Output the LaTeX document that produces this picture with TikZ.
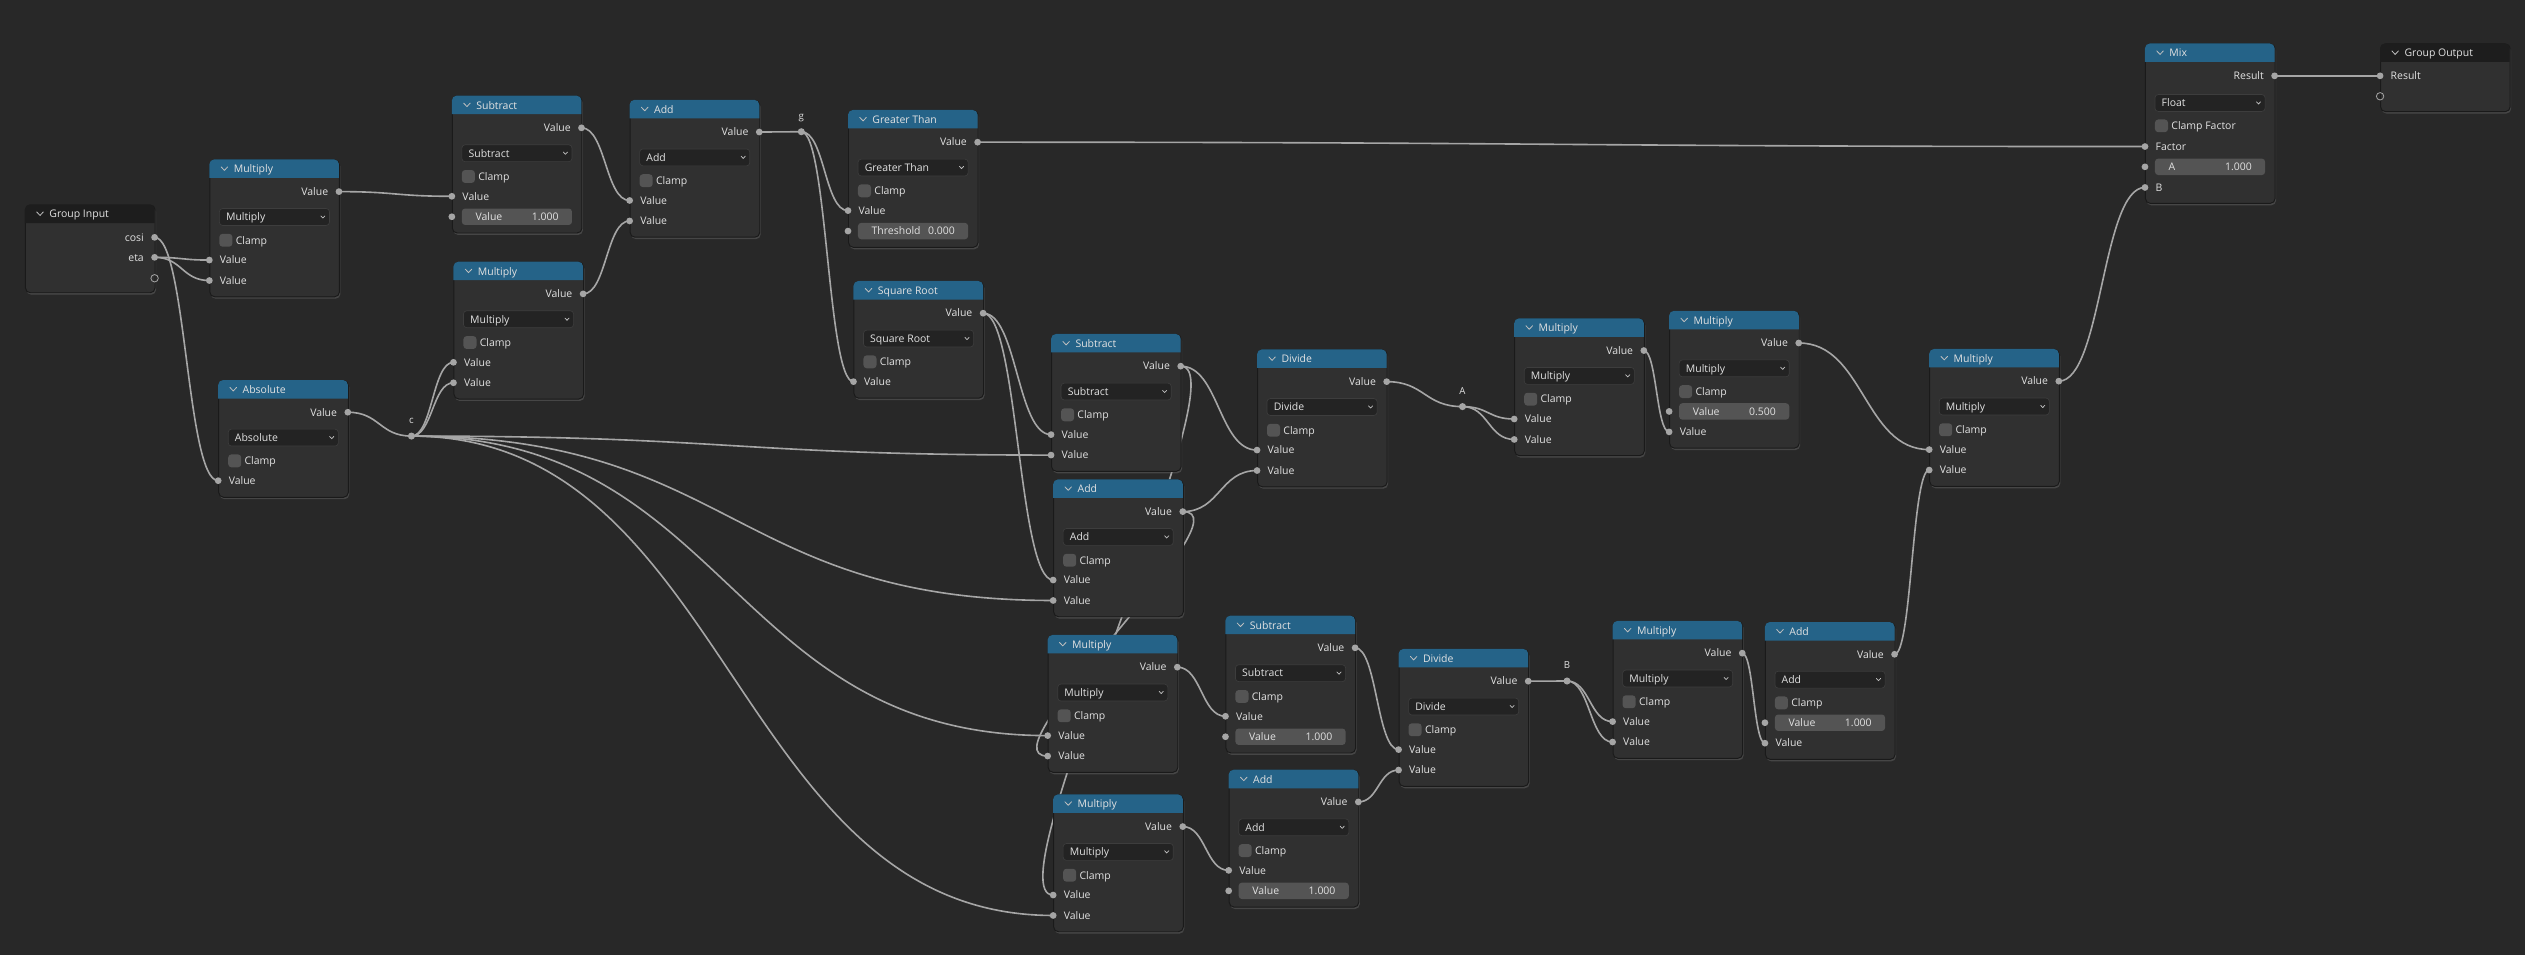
\documentclass[tikz,border=0pt]{standalone}
\usepackage{fontspec}
\setmainfont{Open Sans}
\usetikzlibrary{calc,shadows}

\definecolor{canvas}{HTML}{282828}
\definecolor{nodebg}{HTML}{303030}
\definecolor{nodeedge}{HTML}{1A1A1A}
\definecolor{mathhead}{HTML}{256388}
\definecolor{grphead}{HTML}{1D1D1D}
\definecolor{menubg}{HTML}{232323}
\definecolor{menuedge}{HTML}{3D3D3D}
\definecolor{fieldbg}{HTML}{545454}
\definecolor{txt}{HTML}{E2E2E2}
\definecolor{sockcol}{HTML}{A5A5A5}
\definecolor{wirecol}{HTML}{A6A6A6}

\pgfdeclarelayer{canvas}
\pgfdeclarelayer{wires}
\pgfsetlayers{canvas,wires,main}

\tikzset{
  nbody/.style={rectangle, anchor=north west, minimum width=80.5pt, inner sep=0pt,
    fill=nodebg, draw=nodeedge, line width=0.6pt, rounded corners=3pt,
    drop shadow={shadow xshift=0.6pt, shadow yshift=-1.2pt, opacity=0.35}},
  lbl/.style={inner sep=0pt, text=txt, font=\fontsize{6.5pt}{7.5pt}\selectfont,
    text height=4.7pt, text depth=0pt},
  rlbl/.style={lbl, font=\fontsize{6pt}{7pt}\selectfont},
  chev/.style={draw=txt!85!black, line width=0.5pt, line cap=round, line join=round},
  menu/.style={fill=menubg, draw=menuedge, line width=0.4pt, rounded corners=2pt},
  field/.style={fill=fieldbg, rounded corners=2pt},
  sock/.style={fill=sockcol},
  wire/.style={draw=wirecol, line width=1pt},
}

% body and header of a node: id, x, y, height, title, header colour
\newcommand\blnode[6]{%
  \node[nbody, minimum height=#4] (#1) at (#2,#3) {};
  \fill[#6] (#2,#3+11.5) [rounded corners=3pt] -- (#2,#3) -- (#2+80.5,#3) [sharp corners] -- (#2+80.5,#3+11.5) -- cycle;
  \draw[chev] (#2+7.3,#3+4.6) -- (#2+9.35,#3+6.8) -- (#2+11.4,#3+4.6);
  \node[lbl, anchor=west] at (#2+15,#3+6) {#5};
}
% math node: id, x, y, height, title, operation
\newcommand\mathbox[6]{%
  \blnode{#1}{#2}{#3}{#4}{#5}{mathhead}
  \node[lbl, anchor=east] at (#2+74,#3+20) {Value};
  \coordinate (#1-out) at (#2+80.5,#3+20);
  \fill[sock] (#1-out) circle (2.1pt);
  \draw[menu] (#2+6.2,#3+30.5) rectangle (#2+74.6,#3+41);
  \node[lbl, anchor=west] at (#2+10.2,#3+35.75) {#6};
  \draw[chev, line width=0.45pt] (#2+69.2,#3+35) -- (#2+70.5,#3+36.4) -- (#2+71.8,#3+35);
  \fill[field] (#2+6.2,#3+46.2) rectangle (#2+14.3,#3+54.2);
  \node[lbl, anchor=west] at (#2+16.2,#3+50.2) {Clamp};
  \coordinate (#1-in1) at (#2,#3+62.5);
  \coordinate (#1-in2) at (#2,#3+75.2);
}
% plain input: socket, label
\newcommand\inval[2]{%
  \fill[sock] (#1) circle (2.1pt);
  \node[lbl, anchor=west] at ($(#1)+(6.4,0)$) {#2};
}
% input with a number field: socket, label, value
\newcommand\infield[3]{%
  \fill[sock] (#1) circle (2.1pt);
  \fill[field] ($(#1)+(6.2,-5.1)$) rectangle ($(#1)+(74.6,5.1)$);
  \node[lbl, anchor=west] at ($(#1)+(14.5,0)$) {#2};
  \node[lbl, anchor=east] at ($(#1)+(66.5,0)$) {#3};
}
% noodle between two sockets
\newcommand\wire[2]{%
  \draw[wire] let \p1=(#1), \p2=(#2), \n1={0.5*abs(\x2-\x1)} in
    (\p1) .. controls ({\x1+\n1},\y1) and ({\x2-\n1},\y2) .. (\p2);
}

\begin{document}
\begin{tikzpicture}[x=1pt,y=-1pt]
  \useasboundingbox (0,0) rectangle (1568,593);
  \begin{pgfonlayer}{canvas}
    \fill[canvas] (0,0) rectangle (1568,593);
  \end{pgfonlayer}

  % group input
  \blnode{gin}{15.5}{127}{54.5}{Group Input}{grphead}
  \coordinate (gin-o1) at (96,147.4);
  \coordinate (gin-o2) at (96,159.8);
  \node[lbl, anchor=east] at (89.5,147.4) {cosi};
  \node[lbl, anchor=east] at (89.5,159.8) {eta};
  \fill[sock] (gin-o1) circle (2.1pt);
  \fill[sock] (gin-o2) circle (2.1pt);
  \draw[sockcol, line width=0.5pt] (96,172.8) circle (2.3pt);

  % first column
  \mathbox{mulA}{130}{99}{85}{Multiply}{Multiply}
  \inval{mulA-in1}{Value}
  \inval{mulA-in2}{Value}
  \mathbox{absN}{135.5}{236}{72.5}{Absolute}{Absolute}
  \inval{absN-in1}{Value}

  % reroutes
  \coordinate (c) at (255.5,270.8);
  \coordinate (g) at (497.6,81.8);
  \coordinate (a) at (908.2,252.5);
  \coordinate (b) at (973.1,422.9);
  \foreach \r/\t in {c/c, g/g, a/A, b/B} {
    \fill[sock] (\r) circle (2.2pt);
    \node[rlbl, anchor=south] at ($(\r)+(0,-7.5)$) {\t};
  }

  % g = eta*eta - 1 + c*c
  \mathbox{subT}{280.6}{59.4}{85}{Subtract}{Subtract}
  \inval{subT-in1}{Value}
  \infield{subT-in2}{Value}{1.000}
  \mathbox{mulB}{281.6}{162.5}{85}{Multiply}{Multiply}
  \inval{mulB-in1}{Value}
  \inval{mulB-in2}{Value}
  \mathbox{addT}{391}{62}{85}{Add}{Add}
  \inval{addT-in1}{Value}
  \inval{addT-in2}{Value}
  \mathbox{gt}{526.6}{68.3}{85}{Greater Than}{Greater Than}
  \inval{gt-in1}{Value}
  \infield{gt-in2}{Threshold}{0.000}
  \mathbox{sqrtN}{530}{174.5}{72.5}{Square Root}{Square Root}
  \inval{sqrtN-in1}{Value}

  % g-c, g+c and the products with c
  \mathbox{subM}{652.7}{207.4}{85}{Subtract}{Subtract}
  \inval{subM-in1}{Value}
  \inval{subM-in2}{Value}
  \mathbox{addM}{654}{297.7}{85}{Add}{Add}
  \inval{addM-in1}{Value}
  \inval{addM-in2}{Value}
  \mathbox{mulG}{650.6}{394.3}{85}{Multiply}{Multiply}
  \inval{mulG-in1}{Value}
  \inval{mulG-in2}{Value}
  \mathbox{mulH}{654}{493.3}{85}{Multiply}{Multiply}
  \inval{mulH-in1}{Value}
  \inval{mulH-in2}{Value}

  % A branch
  \mathbox{divA}{780.6}{217}{85}{Divide}{Divide}
  \inval{divA-in1}{Value}
  \inval{divA-in2}{Value}
  \mathbox{mulC}{940.3}{197.7}{85}{Multiply}{Multiply}
  \inval{mulC-in1}{Value}
  \inval{mulC-in2}{Value}
  \mathbox{mulD}{1036.5}{193}{85}{Multiply}{Multiply}
  \infield{mulD-in1}{Value}{0.500}
  \inval{mulD-in2}{Value}

  % B branch
  \mathbox{subB}{761}{382.3}{85}{Subtract}{Subtract}
  \inval{subB-in1}{Value}
  \infield{subB-in2}{Value}{1.000}
  \mathbox{addB}{763}{478}{85}{Add}{Add}
  \inval{addB-in1}{Value}
  \infield{addB-in2}{Value}{1.000}
  \mathbox{divB}{868.5}{403}{85}{Divide}{Divide}
  \inval{divB-in1}{Value}
  \inval{divB-in2}{Value}
  \mathbox{mulE}{1001.4}{385.6}{85}{Multiply}{Multiply}
  \inval{mulE-in1}{Value}
  \inval{mulE-in2}{Value}
  \mathbox{addC}{1096}{386.3}{85}{Add}{Add}
  \infield{addC-in1}{Value}{1.000}
  \inval{addC-in2}{Value}

  \mathbox{mulF}{1198}{216.7}{85}{Multiply}{Multiply}
  \inval{mulF-in1}{Value}
  \inval{mulF-in2}{Value}

  % mix
  \blnode{mix}{1332}{27}{99}{Mix}{mathhead}
  \node[lbl, anchor=east] at (1406,47.1) {Result};
  \coordinate (mix-out) at (1412.5,47.1);
  \fill[sock] (mix-out) circle (2.1pt);
  \draw[menu] (1338.2,58.7) rectangle (1406.6,69.2);
  \node[lbl, anchor=west] at (1342.2,63.9) {Float};
  \draw[chev, line width=0.45pt] (1401.2,63.2) -- (1402.5,64.6) -- (1403.8,63.2);
  \fill[field] (1338.2,74.2) rectangle (1346.3,82.1);
  \node[lbl, anchor=west] at (1348.2,78.2) {Clamp Factor};
  \coordinate (mix-in1) at (1332,91);
  \coordinate (mix-in2) at (1332,103.6);
  \coordinate (mix-in3) at (1332,116.4);
  \inval{mix-in1}{Factor}
  \infield{mix-in2}{A}{1.000}
  \inval{mix-in3}{B}

  % group output
  \blnode{gout}{1478}{27}{42}{Group Output}{grphead}
  \coordinate (gout-in1) at (1478,47.1);
  \inval{gout-in1}{Result}
  \draw[sockcol, line width=0.5pt] (1478,59.8) circle (2.3pt);

  \begin{pgfonlayer}{wires}
    \wire{gin-o1}{absN-in1}
    \wire{gin-o2}{mulA-in1}
    \wire{gin-o2}{mulA-in2}
    \wire{mulA-out}{subT-in1}
    \wire{absN-out}{c}
    \wire{c}{mulB-in1}
    \wire{c}{mulB-in2}
    \wire{c}{subM-in2}
    \wire{c}{addM-in2}
    \wire{c}{mulG-in1}
    \wire{c}{mulH-in2}
    \wire{subT-out}{addT-in1}
    \wire{mulB-out}{addT-in2}
    \wire{addT-out}{g}
    \wire{g}{gt-in1}
    \wire{g}{sqrtN-in1}
    \wire{gt-out}{mix-in1}
    \wire{sqrtN-out}{subM-in1}
    \wire{sqrtN-out}{addM-in1}
    \wire{subM-out}{divA-in1}
    \wire{addM-out}{divA-in2}
    \wire{subM-out}{mulH-in1}
    \wire{addM-out}{mulG-in2}
    \wire{divA-out}{a}
    \wire{a}{mulC-in1}
    \wire{a}{mulC-in2}
    \wire{mulC-out}{mulD-in2}
    \wire{mulD-out}{mulF-in1}
    \wire{mulG-out}{subB-in1}
    \wire{mulH-out}{addB-in1}
    \wire{subB-out}{divB-in1}
    \wire{addB-out}{divB-in2}
    \wire{divB-out}{b}
    \wire{b}{mulE-in1}
    \wire{b}{mulE-in2}
    \wire{mulE-out}{addC-in2}
    \wire{addC-out}{mulF-in2}
    \wire{mulF-out}{mix-in3}
    \wire{mix-out}{gout-in1}
  \end{pgfonlayer}
\end{tikzpicture}
\end{document}
